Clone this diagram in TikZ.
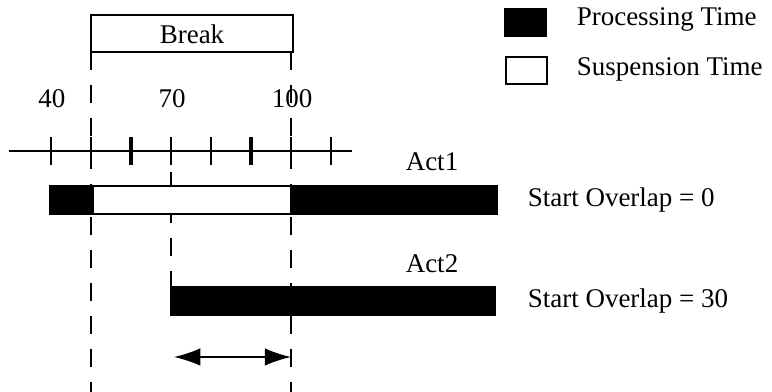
\documentclass[tikz,border=0pt]{standalone}
\usepackage{fontspec}
\setmainfont{Liberation Serif}
\usetikzlibrary{arrows.meta}

\tikzset{
  guide/.style={dash pattern=on 7.2pt off 6pt},
  lbl/.style={font=\fontsize{10.8}{13}\selectfont, inner sep=0pt},
  busy/.style={draw, fill=black},
  idle/.style={draw, fill=white}
}

\begin{document}
\begin{tikzpicture}[x=0.4pt, y=-0.4pt, line width=0.6pt,
    >={Latex[length=10.5pt,width=7pt]}]
        %--- Arguments ----
        \def \axisY {151} % height of the time axis
        \def \tickH {14} % half length of a tick
        \def \barH {28} % thickness of a bar
        \def \actA {186} % top of Act1 bar
        \def \actB {287} % top of Act2 bar
        \def \brkL {91} % break starts (t=50)
        \def \brkR {291} % break ends (t=100)
        \useasboundingbox (0,0) rectangle (772,392);
        %--- Break ---
        \draw (\brkL,15) rectangle (293,52);
        \node [lbl] (brk) at (192,34) {Break};
        %--- Guides ---
        \draw [guide] (\brkL,52) -- (\brkL,392);
        \draw [guide] (\brkR,52) -- (\brkR,392);
        \draw [guide] (171,172) -- (171,\actB);
        %--- Time axis ---
        \draw (9,\axisY) -- (352,\axisY);
        \foreach \t in {40,50,...,110}
            \draw ({4*\t-109},\axisY-\tickH) -- ({4*\t-109},\axisY+\tickH);
        % marked instants
        \foreach \t in {60,90}
            \draw [line width=1.3pt] ({4*\t-109},\axisY-\tickH) -- ({4*\t-109},\axisY+\tickH);
        \foreach \t in {40,70,100}
            \node [lbl] (t\t) at ({4*\t-108},99) {\t};
        %--- Act1 ---
        \node [lbl] (act1) at (432,162) {Act1};
        \draw [busy] (50,\actA) rectangle (93,\actA+\barH);
        \draw [idle] (93,\actA) rectangle (\brkR,\actA+\barH);
        \draw [busy] (\brkR,\actA) rectangle (497,\actA+\barH);
        \node [lbl, anchor=west] (ovl1) at (527,\actA+\barH/2) {Start Overlap = 0};
        %--- Act2 ---
        \node [lbl] (act2) at (432,264) {Act2};
        \draw [busy] (171,\actB) rectangle (495,\actB+\barH);
        \node [lbl, anchor=west] (ovl2) at (527,\actB+\barH/2) {Start Overlap = 30};
        % overlap span
        \coordinate (ovlL) at (174,357);
        \coordinate (ovlR) at (\brkR,357);
        \draw [<->] (ovlL) -- (ovlR);
        %--- Legend ---
        \draw [busy] (505,9) rectangle (546,36);
        \node [lbl, anchor=west] (proc) at (576,19) {Processing Time};
        \draw [idle] (506,57) rectangle (547,84);
        \node [lbl, anchor=west] (susp) at (576,69) {Suspension Time};
\end{tikzpicture}
\end{document}
